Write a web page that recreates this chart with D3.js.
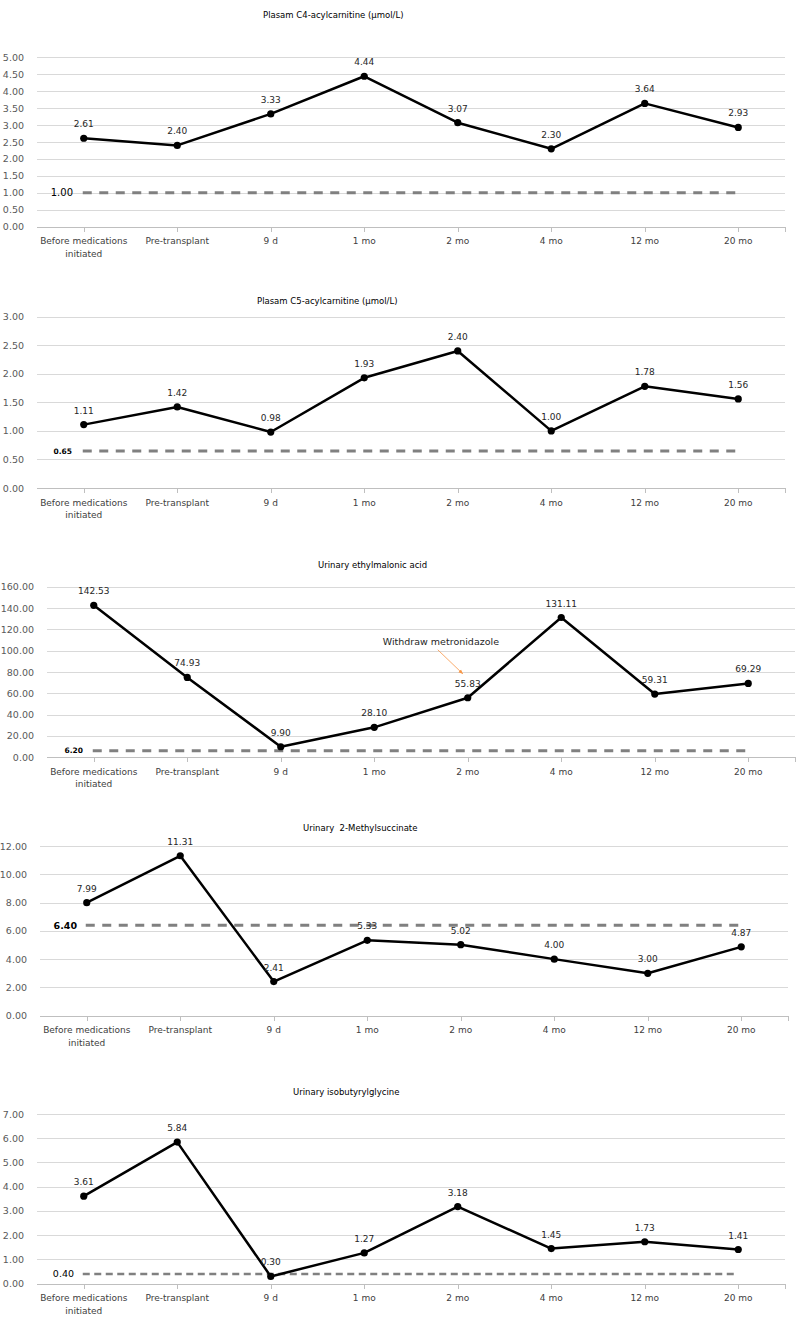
<!DOCTYPE html>
<html>
<head>
<meta charset="utf-8">
<script src="https://cdn.jsdelivr.net/npm/d3@7/dist/d3.min.js"></script>
<style>
  html, body { margin: 0; padding: 0; background: #fff; }
  svg { display: block; font-family: "DejaVu Sans", Tahoma, sans-serif; }
</style>
</head>
<body>
<svg id="chart" width="796" height="1323"></svg>
<script>
// ---------- DATA ----------
const categories = [["Before medications", "initiated"], ["Pre-transplant"], ["9 d"], ["1 mo"], ["2 mo"], ["4 mo"], ["12 mo"], ["20 mo"]];

const titles = [
  "Plasam C4-acylcarnitine (\u03bcmol/L)",
  "Plasam C5-acylcarnitine (\u03bcmol/L)",
  "Urinary ethylmalonic acid",
  "Urinary  2-Methylsuccinate",
  "Urinary isobutyrylglycine"
];

const c4Values   = [2.61, 2.40, 3.33, 4.44, 3.07, 2.30, 3.64, 2.93];
const c5Values   = [1.11, 1.42, 0.98, 1.93, 2.40, 1.00, 1.78, 1.56];
const emaValues  = [142.53, 74.93, 9.90, 28.10, 55.83, 131.11, 59.31, 69.29];
const msValues   = [7.99, 11.31, 2.41, 5.33, 5.02, 4.00, 3.00, 4.87];
const ibgValues  = [3.61, 5.84, 0.30, 1.27, 3.18, 1.45, 1.73, 1.41];

const seriesValues = [c4Values, c5Values, emaValues, msValues, ibgValues];
const referenceValues = [1.00, 0.65, 6.20, 6.40, 0.40];
const yMaxValues = [5, 3, 160, 12, 7];
const yStepValues = [0.5, 0.5, 20, 2, 1];

const annotationText = "Withdraw metronidazole";

// ---------- LAYOUT (positions / styles) ----------
const layouts = [
  {left: 37, right: 785, top: 57.3, bottom: 226.7, titleX: 263, titleY: 18,
   ref: {x: 73, size: 10, weight: "normal", dash: "9,7.5", width: 3}},
  {left: 37, right: 785, top: 316.7, bottom: 488, titleX: 257, titleY: 304,
   ref: {x: 72, size: 7.5, weight: "bold", dash: "9,7.5", width: 3}},
  {left: 47, right: 795, top: 586.7, bottom: 757.3, titleX: 318, titleY: 568,
   ref: {x: 83, size: 7.5, weight: "bold", dash: "9,7.5", width: 3}},
  {left: 40, right: 788, top: 846, bottom: 1015.7, titleX: 303, titleY: 831,
   ref: {x: 77, size: 9.5, weight: "bold", dash: "9,7.5", width: 3}},
  {left: 37, right: 785, top: 1114, bottom: 1283.7, titleX: 293, titleY: 1095,
   ref: {x: 74, size: 9.5, weight: "normal", dash: "7,4.5", width: 2.5}}
];

const svg = d3.select("#chart");

const defs = svg.append("defs");
defs.append("marker")
  .attr("id", "arrowOrange")
  .attr("viewBox", "0 0 10 10")
  .attr("refX", 9).attr("refY", 5)
  .attr("markerWidth", 6).attr("markerHeight", 6)
  .attr("orient", "auto")
  .append("path").attr("d", "M0,1 L10,5 L0,9 Z").attr("fill", "#f79646");

seriesValues.forEach((vals, i) => {
  const L = layouts[i];
  const g = svg.append("g");

  const x = d3.scaleBand()
    .domain(d3.range(categories.length))
    .range([L.left, L.right])
    .paddingInner(0).paddingOuter(0);

  const y = d3.scaleLinear()
    .domain([0, yMaxValues[i]])
    .range([L.bottom, L.top]);

  const ticks = d3.range(0, yMaxValues[i] + yStepValues[i] / 2, yStepValues[i]);

  // title
  g.append("text")
    .attr("x", L.titleX).attr("y", L.titleY)
    .attr("font-size", 8.5).attr("fill", "#000")
    .style("white-space", "pre")
    .attr("xml:space", "preserve")
    .text(titles[i]);

  // gridlines
  g.selectAll(".grid").data(ticks.filter(t => t > 0)).enter()
    .append("line")
    .attr("x1", L.left).attr("x2", L.right)
    .attr("y1", d => Math.round(y(d)) + 0.5).attr("y2", d => Math.round(y(d)) + 0.5)
    .attr("stroke", "#d9d9d9").attr("stroke-width", 1);

  // y tick labels
  g.selectAll(".ytl").data(ticks).enter()
    .append("text")
    .attr("x", L.left - 13)
    .attr("y", d => y(d) + 3.5)
    .attr("text-anchor", "end")
    .attr("font-size", 9.5)
    .attr("fill", "#595959")
    .text(d => d.toFixed(2));

  // x axis
  const xAxis = g.append("g");
  xAxis.append("line")
    .attr("x1", L.left).attr("x2", L.right)
    .attr("y1", Math.round(L.bottom) + 0.5).attr("y2", Math.round(L.bottom) + 0.5)
    .attr("stroke", "#bfbfbf").attr("stroke-width", 1);
  const tickXs = d3.range(categories.length).map(k => x(k) + x.bandwidth() / 2).concat([L.right]);
  xAxis.selectAll(".xt").data(tickXs).enter()
    .append("line")
    .attr("x1", d => Math.round(d) + 0.5).attr("x2", d => Math.round(d) + 0.5)
    .attr("y1", Math.round(L.bottom)).attr("y2", Math.round(L.bottom) + 5)
    .attr("stroke", "#bfbfbf").attr("stroke-width", 1);

  xAxis.selectAll(".xl").data(categories).enter()
    .append("text")
    .attr("text-anchor", "middle")
    .attr("font-size", 9)
    .attr("fill", "#404040")
    .each(function(lines, k) {
      const t = d3.select(this);
      lines.forEach((ln, j) => {
        t.append("tspan")
          .attr("x", x(k) + x.bandwidth() / 2)
          .attr("y", L.bottom + 17.5 + j * 12.5)
          .text(ln);
      });
    });

  // reference dashed line (first to last category center)
  const refY = y(referenceValues[i]);
  g.append("line")
    .attr("x1", x(0) + x.bandwidth() / 2 - 1)
    .attr("x2", x(categories.length - 1) + x.bandwidth() / 2 - 3)
    .attr("y1", refY).attr("y2", refY)
    .attr("stroke", "#808080")
    .attr("stroke-width", L.ref.width)
    .attr("stroke-dasharray", L.ref.dash);

  g.append("text")
    .attr("x", L.ref.x).attr("y", refY + L.ref.size * 0.36)
    .attr("text-anchor", "end")
    .attr("font-size", L.ref.size)
    .attr("font-weight", L.ref.weight)
    .attr("fill", "#000")
    .text(referenceValues[i].toFixed(2));

  // series line
  const line = d3.line()
    .x((d, k) => x(k) + x.bandwidth() / 2)
    .y(d => y(d));
  g.append("path")
    .datum(vals)
    .attr("d", line)
    .attr("fill", "none")
    .attr("stroke", "#000")
    .attr("stroke-width", 2.5)
    .attr("stroke-linejoin", "round");

  g.selectAll(".pt").data(vals).enter()
    .append("circle")
    .attr("cx", (d, k) => x(k) + x.bandwidth() / 2)
    .attr("cy", d => y(d))
    .attr("r", 3.6)
    .attr("fill", "#000");

  // data labels
  g.selectAll(".dl").data(vals).enter()
    .append("text")
    .attr("x", (d, k) => x(k) + x.bandwidth() / 2)
    .attr("y", d => y(d) - 11)
    .attr("text-anchor", "middle")
    .attr("font-size", 9)
    .attr("fill", "#262626")
    .text(d => d.toFixed(2));

  // annotation on ethylmalonic acid panel
  if (i === 2) {
    const k = 4;
    const px = x(k) + x.bandwidth() / 2;
    const py = y(vals[k]);
    g.append("text")
      .attr("x", px - 85).attr("y", py - 53)
      .attr("font-size", 9.5)
      .attr("fill", "#262626")
      .text(annotationText);
    g.append("line")
      .attr("x1", px - 30).attr("y1", py - 48)
      .attr("x2", px - 5).attr("y2", py - 24)
      .attr("stroke", "#f79646").attr("stroke-width", 0.8)
      .attr("marker-end", "url(#arrowOrange)");
  }
});
</script>
</body>
</html>
